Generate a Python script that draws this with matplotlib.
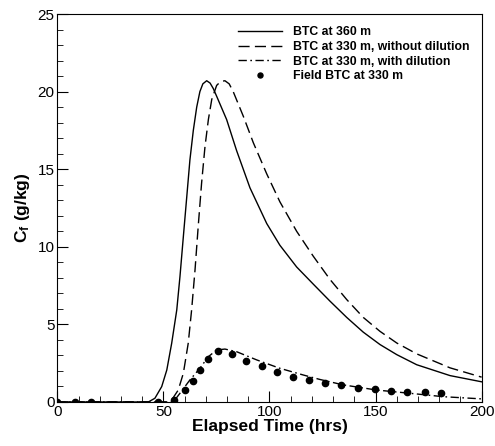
import matplotlib
matplotlib.use("Agg")
import matplotlib.pyplot as plt
import numpy as np

plt.rcParams['font.family'] = ['Liberation Sans', 'DejaVu Sans']
plt.rcParams['mathtext.fontset'] = 'custom'
plt.rcParams['mathtext.rm'] = 'Liberation Sans:bold'
plt.rcParams['mathtext.it'] = 'Liberation Sans:bold'
plt.rcParams['mathtext.bf'] = 'Liberation Sans:bold'

# BTC at 360 m
t_360 = [0, 42.9, 46.0, 49.2, 51.6, 53.9, 56.3, 57.8, 59.4, 61.0, 62.5, 64.1, 65.7,
         67.2, 68.6, 70.4, 72.0, 73.5, 75.1, 79.8, 84.5, 90.8, 98.7, 104.9, 112.8,
         120.6, 128.5, 136.4, 144.2, 152.1, 160.0, 169.4, 185.1, 200]
c_360 = [0, 0, 0.24, 0.99, 2.06, 3.78, 5.93, 8.07, 10.65, 13.2, 15.6, 17.5, 19.0,
         20.0, 20.5, 20.7, 20.55, 20.2, 19.7, 18.2, 16.2, 13.8, 11.5, 10.1, 8.7,
         7.6, 6.5, 5.45, 4.5, 3.7, 3.05, 2.4, 1.7, 1.3]

# BTC at 330 m, without dilution
t_330 = [0, 51.5, 53.9, 57.0, 59.4, 61.7, 63.3, 64.9, 66.4, 68.0, 69.6, 71.2, 72.8,
         75.1, 77.0, 79.0, 81.0, 82.9, 87.7, 92.4, 98.7, 104.9, 112.8, 120.6, 128.5,
         136.4, 144.2, 152.1, 160.0, 169.4, 185.1, 200]
c_330 = [0, 0, 0.13, 0.77, 1.85, 3.78, 5.93, 8.5, 11.3, 14.1, 16.45, 18.2, 19.5,
         20.4, 20.65, 20.7, 20.5, 20.0, 18.4, 16.7, 14.7, 12.9, 11.0, 9.4, 7.9,
         6.6, 5.45, 4.55, 3.8, 3.1, 2.2, 1.6]

# BTC at 330 m, with dilution
t_dil = [0, 53.5, 55.5, 57.8, 62.5, 67.2, 71.2, 75.1, 79.0, 84.5, 94.0, 104.9,
         115.9, 123.8, 134.8, 150.5, 166.2, 182.0, 200]
c_dil = [0, 0, 0.15, 0.56, 1.42, 2.17, 2.92, 3.35, 3.41, 3.24, 2.71, 2.17,
         1.74, 1.45, 1.1, 0.77, 0.56, 0.34, 0.2]

# Field BTC at 330 m
t_field = [0, 8.1, 15.8, 47.6, 55.2, 60.1, 63.8, 67.4, 71.1, 75.8, 82.4, 89.1, 96.4,
           103.6, 111.0, 118.6, 126.1, 133.9, 141.8, 149.6, 157.4, 164.9, 173.1, 180.9]
c_field = [0, 0, 0, 0, 0.1, 0.77, 1.36, 2.06, 2.75, 3.31, 3.12, 2.66, 2.32,
           1.95, 1.64, 1.42, 1.22, 1.07, 0.92, 0.82, 0.73, 0.66, 0.62, 0.56]

fig = plt.figure(figsize=(4.95, 4.46), dpi=100)
ax = fig.add_axes([0.1158, 0.0987, 0.8572, 0.8699])

ax.plot(t_360, c_360, color='black', lw=1.0, label='BTC at 360 m')
ax.plot(t_330, c_330, color='black', lw=1.0, dashes=(8, 3.8),
        label='BTC at 330 m, without dilution')
ax.plot(t_dil, c_dil, color='black', lw=1.0, dashes=(6, 2.5, 1.2, 2.5),
        label='BTC at 330 m, with dilution')
ax.plot(t_field, c_field, 'o', color='black', ms=4.5,
        label='Field BTC at 330 m')

ax.set_xlim(0, 200)
ax.set_ylim(0, 25)
ax.set_xticks(np.arange(0, 201, 50))
ax.set_xticks(np.arange(0, 201, 10), minor=True)
ax.set_yticks(np.arange(0, 26, 5))
ax.set_yticks(np.arange(0, 26, 1), minor=True)
ax.tick_params(which='both', direction='in', top=False, right=False,
               labelsize=11, pad=2)
ax.tick_params(which='major', length=8)
ax.tick_params(which='minor', length=4)

ax.set_xlabel('Elapsed Time (hrs)', fontsize=12.5, fontweight='bold', labelpad=0)
ax.set_ylabel(r'C$_\mathrm{f}$ (g/kg)', fontsize=12.5, fontweight='bold', labelpad=4)

leg = ax.legend(loc='upper right', frameon=False, prop={'weight': 'bold', 'size': 8.8},
                handlelength=3.6, handletextpad=0.9, labelspacing=0.22,
                borderaxespad=0.6, markerscale=0.8)

fig.savefig('out.png', dpi=100)
